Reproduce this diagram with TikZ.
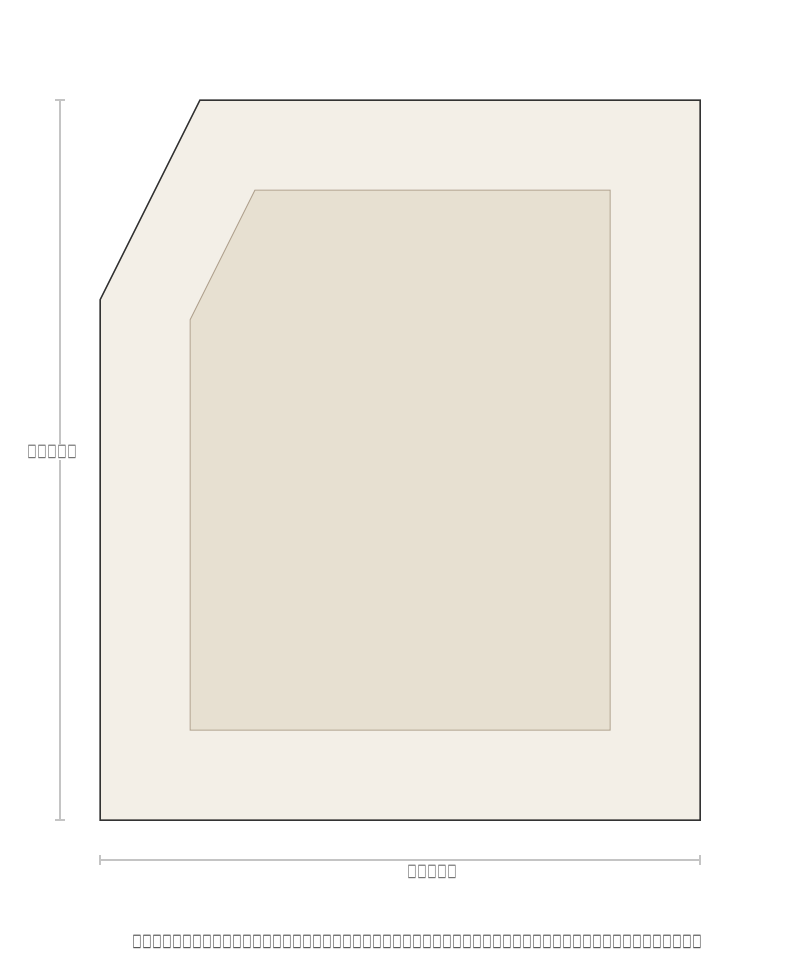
\documentclass[tikz,border=0pt]{standalone}
\usepackage{fontspec}
\setmainfont{DejaVu Sans}
\usepackage{xcolor}
\definecolor{outerfill}{HTML}{F3EFE7}
\definecolor{innerfill}{HTML}{E7E0D1}
\definecolor{innerline}{HTML}{B3A592}
\definecolor{dimline}{HTML}{C4C4C4}
\definecolor{labeltext}{HTML}{555555}
\newcommand{\tofu}[1]{\foreach \k in {1,...,#1}{\makebox[10pt]{\fontsize{11pt}{11pt}\selectfont\bfseries\scalebox{0.85}[1.6]{□}}}}

\begin{document}
\begin{tikzpicture}[x=1pt,y=-1pt]
        \useasboundingbox (0,0) rectangle (800,980);

        % Terreno (contorno exterior)
        \draw[fill=outerfill, draw=black!80, line width=1.5pt]
            (200,100) -- (700,100) -- (700,820) -- (100,820) -- (100,300) -- cycle;

        % Area interior
        \draw[fill=innerfill, draw=innerline, line width=1pt]
            (255,190) -- (610,190) -- (610,730) -- (190,730) -- (190,320) -- cycle;

        % Cota vertical
        \draw[dimline, line width=1.2pt] (60,100) -- (60,820);
        \draw[dimline, line width=1.2pt] (55,100) -- (65,100);
        \draw[dimline, line width=1.2pt] (55,820) -- (65,820);
        \node[fill=white, inner sep=1pt, text=labeltext] (altura) at (52,452) {\tofu{5}};

        % Cota horizontal
        \draw[dimline, line width=1.2pt] (100,860) -- (700,860);
        \draw[dimline, line width=1.2pt] (100,855) -- (100,865);
        \draw[dimline, line width=1.2pt] (700,855) -- (700,865);
        \node[text=labeltext, inner sep=0pt] (largura) at (432,872) {\tofu{5}};

        % Legenda
        \node[text=black!80, inner sep=0pt] (legenda) at (417,942) {\tofu{57}};
    \end{tikzpicture}
\end{document}
